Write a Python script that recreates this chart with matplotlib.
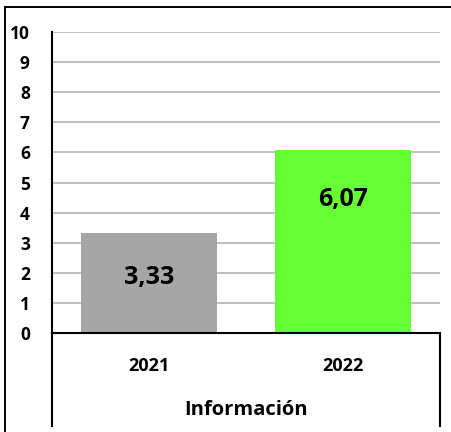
import matplotlib
matplotlib.use('Agg')
import matplotlib.pyplot as plt
from matplotlib.lines import Line2D

plt.rcParams['font.family'] = ['Open Sans', 'DejaVu Sans']

# Data
categories = ['2021', '2022']
values = [3.33, 6.07]
value_labels = ['3,33', '6,07']
bar_colors = ['#A6A6A6', '#66FF33']
label_y = [1.86, 4.42]          # where the value labels sit inside the bars
y_ticks = list(range(0, 11))
group_label = 'Información'

fig = plt.figure(figsize=(4.51, 4.32), dpi=100)
ax = fig.add_axes([52 / 451, 99 / 432, 388 / 451, 301 / 432])

x = list(range(len(categories)))
ax.bar(x, values, width=0.706, color=bar_colors, zorder=2)
for xi, ly, txt in zip(x, label_y, value_labels):
    ax.text(xi, ly, txt, ha='center', va='center', fontsize=18, fontweight='bold', zorder=3)

ax.set_xlim(-0.5, 1.5)
ax.set_ylim(0, 10)
ax.set_yticks(y_ticks)
ax.set_yticklabels([str(t) for t in y_ticks], fontsize=12.5, fontweight='bold')
ax.tick_params(axis='y', length=0, pad=16)
ax.set_xticks([])
ax.grid(axis='y', color='#B4B4B4', linewidth=1.2, zorder=0)
ax.set_axisbelow(True)

for s in ['top', 'right']:
    ax.spines[s].set_visible(False)
ax.spines['left'].set_linewidth(1.5)
ax.spines['bottom'].set_linewidth(1.5)

# category labels and group label below the axis
for xi, cat in zip(x, categories):
    ax.text(xi, -0.11, cat, transform=ax.get_xaxis_transform(), ha='center', va='center',
            fontsize=13, fontweight='bold')
ax.text(0.5, -0.256, group_label, transform=ax.transAxes, ha='center', va='center',
        fontsize=14.5, fontweight='bold')

# extended left line and right separator below the axis
ax.plot([0, 0], [0, -0.31], transform=ax.transAxes, color='black', lw=1.5, clip_on=False)
ax.plot([1, 1], [0, -0.31], transform=ax.transAxes, color='black', lw=1.5, clip_on=False)

# outer chart frame (left and top edges visible)
fig.add_artist(Line2D([5 / 451, 5 / 451], [0, 1 - 7 / 432], color='black', lw=1.4))
fig.add_artist(Line2D([5 / 451, 1], [1 - 7 / 432, 1 - 7 / 432], color='black', lw=1.4))

fig.savefig('out.png', dpi=100)
